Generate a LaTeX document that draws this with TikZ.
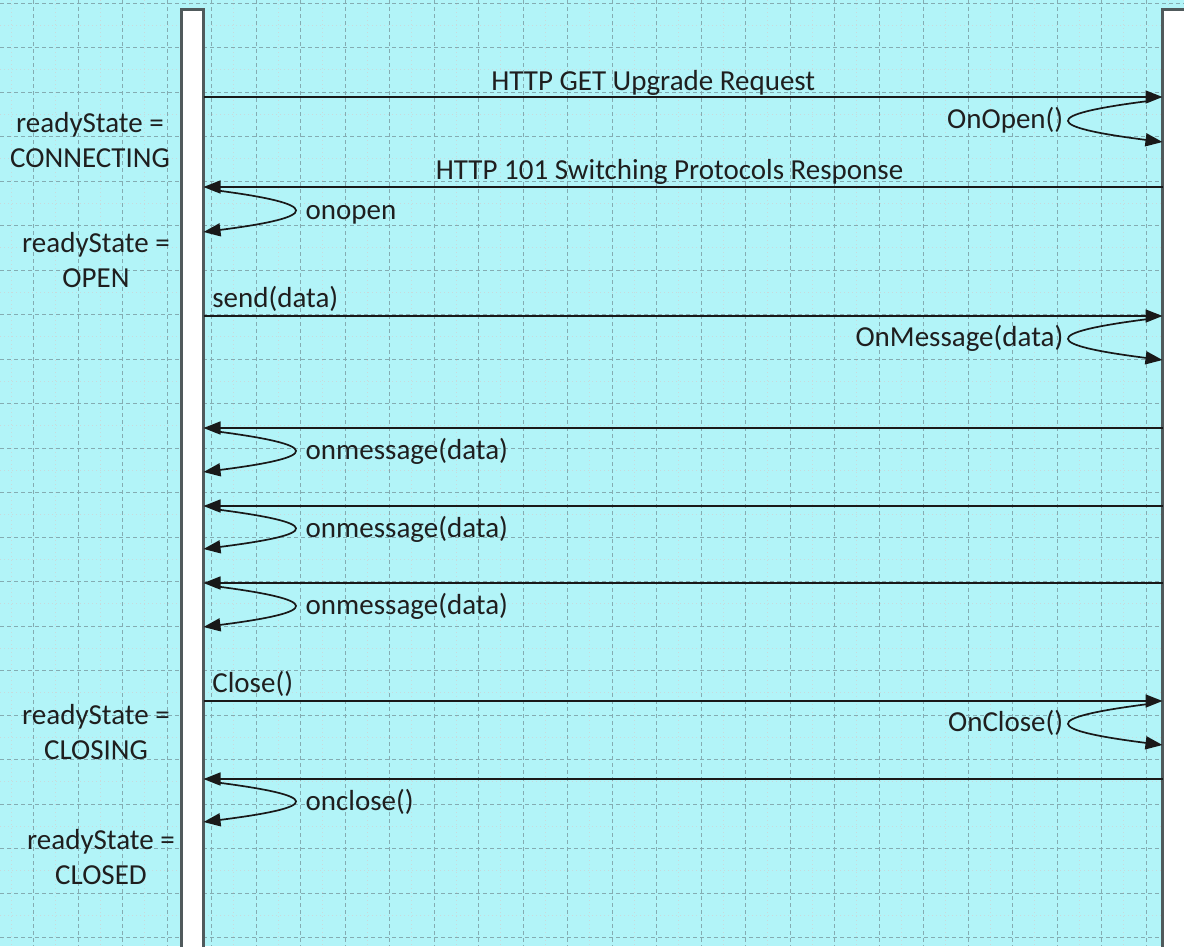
\documentclass[tikz,border=0pt]{standalone}
\usepackage{fontspec}
\setmainfont{Carlito}
\usepackage{tikz}
\usetikzlibrary{arrows.meta,calc,positioning}
\definecolor{sheet}{RGB}{178,244,248}
\definecolor{gridln}{RGB}{132,172,178}
\definecolor{barln}{RGB}{80,90,92}
\tikzset{
	sequence diagram/.style={
		x=1pt, y=-1pt,
		msg/.style={draw=black!90, line width=1.7pt, -{Triangle[length=17pt,width=13pt]}},
		lbl/.style={font=\fontsize{29}{35}\selectfont, text=black!88, inner sep=0pt},
		statelbl/.style={lbl, align=center},
		lifeline/.style={draw=barln, line width=3pt, fill=white, anchor=north west,
			outer sep=0pt, inner sep=0pt, minimum height=960pt}
		},
	majorln/.style={gridln, line width=.8pt, dash pattern=on 4pt off 3pt},
	minorln/.style={gridln!45, line width=.6pt, dash pattern=on 1pt off 3pt}
}

\begin{document}
\begin{tikzpicture}[sequence diagram]
   \useasboundingbox (0,0) rectangle (1184,946);
   \clip (0,0) rectangle (1184,946);
   \fill[sheet] (0,0) rectangle (1184,946);
   % grid
   \foreach \gx in {11.25,55.75,...,1184} \draw[minorln] (\gx,0) -- (\gx,946);
   \foreach \gy in {25.25,69.75,...,946} \draw[minorln] (0,\gy) -- (1184,\gy);
   \foreach \gx in {33.5,78,...,1184} \draw[majorln] (\gx,0) -- (\gx,946);
   \foreach \gy in {3,47.5,...,946} \draw[majorln] (0,\gy) -- (1184,\gy);
   % lifelines
   \node[lifeline, minimum width=22pt] (client) at (181.5,9.5) {};
   \node[lifeline, minimum width=40pt] (server) at (1162.5,9.5) {};
   \foreach \nm/\yy in {upg/97,sw/187,snd/316,m1/428,m2/506,m3/583,cls/701,ack/779} {
      \coordinate (c-\nm) at (client.east |- 0,\yy);
      \coordinate (s-\nm) at (server.west |- 0,\yy);
   }
   % messages
   \draw[msg] (c-upg) -- node[lbl, pos=.469, anchor=base, yshift=7pt] (t-upg) {HTTP GET Upgrade Request} (s-upg);
   \draw[msg] (s-sw) -- node[lbl, pos=.514, anchor=base, yshift=8pt] (t-sw) {HTTP 101 Switching Protocols Response} (c-sw);
   \draw[msg] (c-snd) -- node[lbl, pos=0, anchor=base west, xshift=8pt, yshift=9pt] (t-snd) {send(data)} (s-snd);
   \draw[msg] (s-m1) -- (c-m1);
   \draw[msg] (s-m2) -- (c-m2);
   \draw[msg] (s-m3) -- (c-m3);
   \draw[msg] (c-cls) -- node[lbl, pos=0, anchor=base west, xshift=8pt, yshift=9pt] (t-cls) {Close()} (s-cls);
   \draw[msg] (s-ack) -- (c-ack);
   % self calls on the server
   \foreach \nm/\ya/\yb/\txt in {opn/100/142/OnOpen(), onm/318/360/OnMessage(data), onc/703/745/OnClose()} {
      \coordinate (\nm-a) at ($(server.west |- 0,\ya)+(-14,1)$);
      \coordinate (\nm-b) at (server.west |- 0,\yb);
      \draw[msg] (\nm-a) .. controls +(-110,14) and +(-118,-15) .. (\nm-b);
      \node[lbl, anchor=base east] (\nm-t) at ($(\nm-a)!.5!(\nm-b)+(-92,7)$) {\txt};
   }
   % self calls on the client
   \foreach \nm/\ya/\yb/\txt in {oop/189/232/onopen, om1/430/472/onmessage(data), om2/508/549/onmessage(data), om3/585/627/onmessage(data), ocl/781/822/onclose()} {
      \coordinate (\nm-a) at ($(client.east |- 0,\ya)+(10,1)$);
      \coordinate (\nm-b) at (client.east |- 0,\yb);
      \draw[msg] (\nm-a) .. controls +(110,14) and +(118,-15) .. (\nm-b);
      \node[lbl, anchor=base west] (\nm-t) at ($(\nm-a)!.5!(\nm-b)+(97,8)$) {\txt};
   }
   % states
   \node[statelbl, anchor=south] (st-conn) at (90,168) {readyState =\\CONNECTING};
   \node[statelbl, anchor=south] (st-open) at (96,288) {readyState =\\OPEN};
   \node[statelbl, anchor=south] (st-clsg) at (96,760) {readyState =\\CLOSING};
   \node[statelbl, anchor=south] (st-clsd) at (101,885) {readyState =\\CLOSED};
\end{tikzpicture}
\end{document}
